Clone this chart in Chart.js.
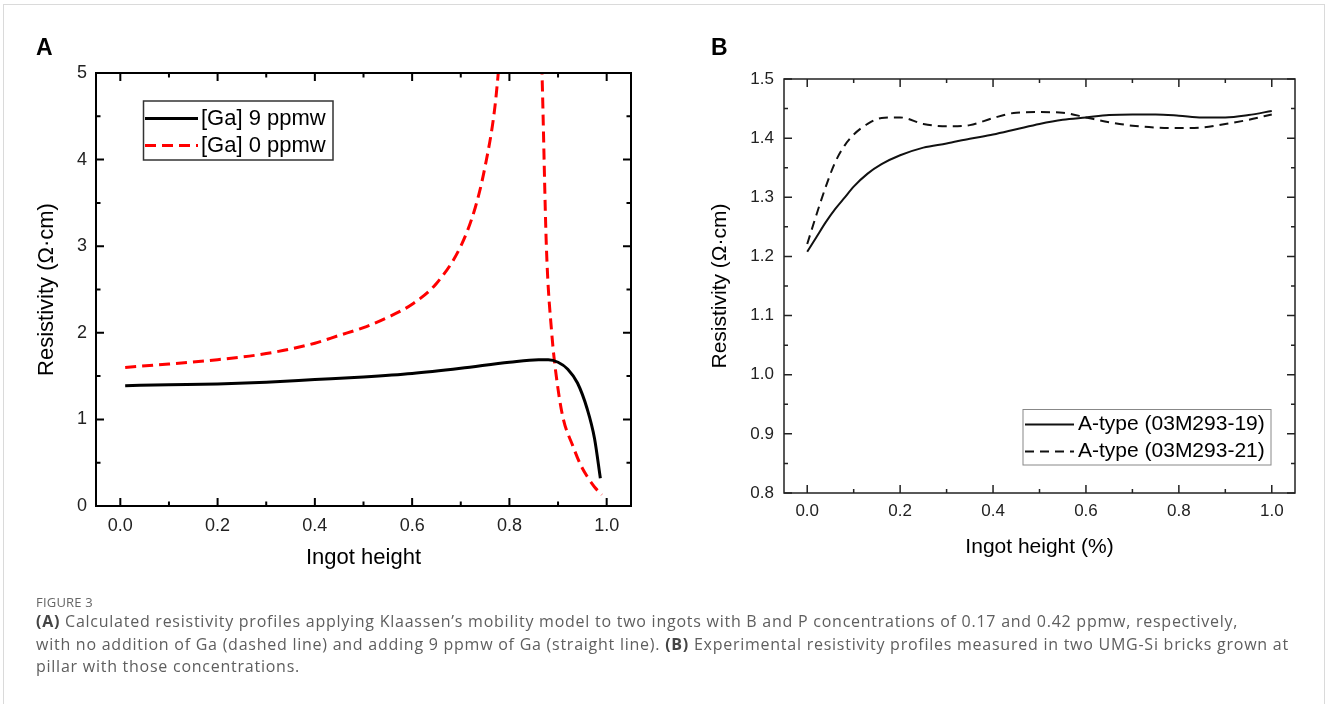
<!DOCTYPE html>
<html>
<head>
<meta charset="utf-8">
<script src="https://cdn.jsdelivr.net/npm/chart.js@4.4.1/dist/chart.umd.min.js"></script>
<style>
  html, body { margin: 0; padding: 0; background: #fff; overflow: hidden; }
  #fig { position: relative; width: 1328px; height: 704px; overflow: hidden; background: #fff; }
  #frame { position: absolute; left: 3px; top: 4px; width: 1322px; height: 760px; border: 1px solid #dadada; box-sizing: border-box; }
  .box { position: absolute; top: 0; width: 664px; height: 600px; }
  .panel { position: absolute; font: bold 23px "Liberation Sans", Arial, sans-serif; line-height: 23px; color: #000; }
  #caption { position: absolute; left: 36px; top: 594px; font-family: "Open Sans", sans-serif; color: #5e5e5e; white-space: nowrap; }
  #caption .figno { font-size: 13px; line-height: 16px; letter-spacing: 0.2px; color: #666; }
  #caption .line { font-size: 16px; line-height: 22.5px; letter-spacing: 0.75px; }
  #caption b { color: #444; }
</style>
</head>
<body>
<div id="fig">
  <div id="frame"></div>
  <div class="box" style="left:0"><canvas id="chartA" width="664" height="600"></canvas></div>
  <div class="box" style="left:664px"><canvas id="chartB" width="664" height="600"></canvas></div>
  <div class="panel" style="left:36px;top:36px">A</div>
  <div class="panel" style="left:711px;top:36px">B</div>
  <div id="caption">
    <div class="figno">FIGURE 3</div>
    <div class="line"><b>(A)</b> Calculated resistivity profiles applying Klaassen’s mobility model to two ingots with B and P concentrations of 0.17 and 0.42 ppmw, respectively,</div>
    <div class="line">with no addition of Ga (dashed line) and adding 9 ppmw of Ga (straight line). <b>(B)</b> Experimental resistivity profiles measured in two UMG-Si bricks grown at</div>
    <div class="line">pillar with those concentrations.</div>
  </div>
</div>
<script>
// Panel A - calculated resistivity, [Ga] 9 ppmw (solid)
const heightA9 = [0.01, 0.1, 0.2, 0.3, 0.4, 0.5, 0.6, 0.7, 0.8, 0.86, 0.88, 0.9, 0.92, 0.94, 0.96, 0.975, 0.987];
const rhoA9 = [1.39, 1.40, 1.41, 1.43, 1.46, 1.49, 1.53, 1.59, 1.66, 1.69, 1.69, 1.66, 1.58, 1.42, 1.12, 0.78, 0.32];
// Panel A - [Ga] 0 ppmw (dashed), goes off the top of the axis near 0.8
const heightA0 = [0.01, 0.1, 0.2, 0.3, 0.4, 0.45, 0.5, 0.55, 0.6, 0.65, 0.7, 0.73, 0.75, 0.77, 0.785, 0.82, 0.864, 0.867, 0.876, 0.887, 0.9, 0.911, 0.93, 0.946, 0.96, 0.975, 0.99];
const rhoA0 = [1.60, 1.64, 1.69, 1.76, 1.88, 1.97, 2.06, 2.18, 2.33, 2.57, 3.0, 3.45, 3.92, 4.6, 5.5, null, 5.5, 5.0, 3.0, 2.0, 1.35, 1.0, 0.7, 0.48, 0.34, 0.22, 0.13];

// Panel B - measured bricks
const heightB = [0, 0.02, 0.04, 0.06, 0.08, 0.1, 0.13, 0.16, 0.2, 0.25, 0.3, 0.35, 0.4, 0.45, 0.5, 0.55, 0.6, 0.65, 0.7, 0.75, 0.8, 0.85, 0.9, 0.95, 1.0];
const rhoB19 = [1.208, 1.233, 1.258, 1.280, 1.299, 1.318, 1.340, 1.356, 1.371, 1.384, 1.391, 1.399, 1.406, 1.415, 1.424, 1.431, 1.435, 1.439, 1.440, 1.440, 1.438, 1.435, 1.435, 1.439, 1.446];
const rhoB21 = [1.221, 1.271, 1.318, 1.359, 1.387, 1.406, 1.424, 1.434, 1.435, 1.424, 1.420, 1.422, 1.434, 1.443, 1.444, 1.443, 1.435, 1.427, 1.421, 1.418, 1.417, 1.418, 1.424, 1.431, 1.440];

const labelsA = ['[Ga] 9 ppmw', '[Ga] 0 ppmw'];
const labelsB = ['A-type (03M293-19)', 'A-type (03M293-21)'];

const FONT = '"Liberation Sans", Arial, sans-serif';

function pairs(xs, ys) {
    return xs.map((x, i) => ({ x: x, y: ys[i] }));
}

// frame around the plot + inward ticks on all four sides
const boxAndTicks = {
    id: 'boxAndTicks',
    afterDatasetsDraw(chart, args, o) {
        const { ctx, chartArea: a, scales } = chart;
        const minorOf = (vals, min, max) => {
            const out = [];
            for (let i = 0; i < vals.length - 1; i++) out.push((vals[i] + vals[i + 1]) / 2);
            return out.filter(v => v > min && v < max);
        };
        const xs = scales.x.ticks.map(t => t.value);
        const ys = scales.y.ticks.map(t => t.value);
        ctx.save();
        ctx.strokeStyle = o.color;
        ctx.lineWidth = o.width;
        ctx.strokeRect(a.left, a.top, a.right - a.left, a.bottom - a.top);
        ctx.beginPath();
        const markX = (vals, len) => vals.forEach(v => {
            const px = scales.x.getPixelForValue(v);
            ctx.moveTo(px, a.bottom); ctx.lineTo(px, a.bottom - len);
            ctx.moveTo(px, a.top); ctx.lineTo(px, a.top + len);
        });
        const markY = (vals, len) => vals.forEach(v => {
            const py = scales.y.getPixelForValue(v);
            ctx.moveTo(a.left, py); ctx.lineTo(a.left + len, py);
            ctx.moveTo(a.right, py); ctx.lineTo(a.right - len, py);
        });
        markX(xs, o.major); markX(minorOf(xs, scales.x.min, scales.x.max), o.minor);
        markY(ys, o.major); markY(minorOf(ys, scales.y.min, scales.y.max), o.minor);
        ctx.stroke();
        ctx.restore();
    }
};

// boxed legend placed inside the plot
const boxLegend = {
    id: 'boxLegend',
    afterDraw(chart, args, o) {
        const { ctx } = chart;
        ctx.save();
        ctx.strokeStyle = o.borderColor;
        ctx.lineWidth = o.borderWidth;
        ctx.strokeRect(o.left, o.top, o.width, o.height);
        ctx.font = o.font;
        ctx.textBaseline = 'middle';
        ctx.fillStyle = '#000';
        chart.data.datasets.forEach((ds, i) => {
            const y = o.rowY[i];
            ctx.beginPath();
            ctx.strokeStyle = ds.borderColor;
            ctx.lineWidth = ds.borderWidth;
            ctx.setLineDash(ds.borderDash || []);
            ctx.moveTo(o.sampleX[0], y);
            ctx.lineTo(o.sampleX[1], y);
            ctx.stroke();
            ctx.setLineDash([]);
            ctx.fillText(ds.label, o.textX, y);
        });
        ctx.restore();
    }
};

document.addEventListener('DOMContentLoaded', function() {

// Panel A
new Chart(document.getElementById('chartA').getContext('2d'), {
    type: 'line',
    data: {
        datasets: [{
            label: labelsA[0],
            data: pairs(heightA9, rhoA9),
            borderColor: '#000000',
            borderWidth: 3,
            pointRadius: 0,
            cubicInterpolationMode: 'monotone'
        }, {
            label: labelsA[1],
            data: pairs(heightA0, rhoA0),
            borderColor: '#ff0000',
            borderWidth: 3,
            borderDash: [11, 6],
            pointRadius: 0,
            spanGaps: false,
            cubicInterpolationMode: 'monotone'
        }]
    },
    options: {
        responsive: false,
        animation: false,
        layout: { padding: { left: 0, top: 73, right: 33, bottom: 24 } },
        scales: {
            x: {
                type: 'linear',
                min: -0.05,
                max: 1.05,
                grid: { display: false, drawTicks: false },
                border: { display: false },
                ticks: {
                    stepSize: 0.2,
                    includeBounds: false,
                    padding: 9,
                    color: '#222',
                    font: { family: FONT, size: 18 },
                    callback: v => v.toFixed(1)
                },
                title: {
                    display: true,
                    text: 'Ingot height',
                    color: '#000',
                    font: { family: FONT, size: 22 },
                    padding: { bottom: 5 }
                },
                afterFit: s => { s.height = 70; }
            },
            y: {
                min: 0,
                max: 5,
                grid: { display: false, drawTicks: false },
                border: { display: false },
                ticks: {
                    stepSize: 1,
                    padding: 9,
                    color: '#222',
                    font: { family: FONT, size: 18 }
                },
                title: {
                    display: true,
                    text: 'Resistivity (Ω·cm)',
                    color: '#000',
                    font: { family: FONT, size: 22 },
                    padding: { top: 34 }
                },
                afterFit: s => { s.width = 96; }
            }
        },
        plugins: {
            legend: { display: false },
            tooltip: { enabled: false },
            boxAndTicks: { color: '#000', width: 2, major: 8, minor: 4.5 },
            boxLegend: {
                left: 143.5, top: 101, width: 189.5, height: 59,
                borderColor: '#333', borderWidth: 1.5,
                rowY: [118.5, 145.5], sampleX: [145, 198], textX: 201,
                font: '22px ' + FONT
            }
        }
    },
    plugins: [boxAndTicks, boxLegend]
});

// Panel B
new Chart(document.getElementById('chartB').getContext('2d'), {
    type: 'line',
    data: {
        datasets: [{
            label: labelsB[0],
            data: pairs(heightB, rhoB19),
            borderColor: '#111111',
            borderWidth: 2,
            pointRadius: 0,
            cubicInterpolationMode: 'monotone'
        }, {
            label: labelsB[1],
            data: pairs(heightB, rhoB21),
            borderColor: '#111111',
            borderWidth: 2,
            borderDash: [9, 6],
            pointRadius: 0,
            cubicInterpolationMode: 'monotone'
        }]
    },
    options: {
        responsive: false,
        animation: false,
        layout: { padding: { left: 0, top: 79, right: 33, bottom: 37 } },
        scales: {
            x: {
                type: 'linear',
                min: -0.05,
                max: 1.05,
                grid: { display: false, drawTicks: false },
                border: { display: false },
                ticks: {
                    stepSize: 0.2,
                    includeBounds: false,
                    padding: 8,
                    color: '#222',
                    font: { family: FONT, size: 17 },
                    callback: v => v.toFixed(1)
                },
                title: {
                    display: true,
                    text: 'Ingot height (%)',
                    color: '#000',
                    font: { family: FONT, size: 21 },
                    padding: { bottom: 3 }
                },
                afterFit: s => { s.height = 70; }
            },
            y: {
                min: 0.8,
                max: 1.5,
                grid: { display: false, drawTicks: false },
                border: { display: false },
                ticks: {
                    stepSize: 0.1,
                    padding: 10,
                    color: '#222',
                    font: { family: FONT, size: 17 },
                    callback: v => v.toFixed(1)
                },
                title: {
                    display: true,
                    text: 'Resistivity (Ω·cm)',
                    color: '#000',
                    font: { family: FONT, size: 21 },
                    padding: { top: 44 }
                },
                afterFit: s => { s.width = 120; }
            }
        },
        plugins: {
            legend: { display: false },
            tooltip: { enabled: false },
            boxAndTicks: { color: '#222', width: 1.5, major: 8, minor: 4 },
            boxLegend: {
                left: 359, top: 409.5, width: 248, height: 55.5,
                borderColor: '#888', borderWidth: 1,
                rowY: [424.5, 451.5], sampleX: [361, 410], textX: 414,
                font: '21px ' + FONT
            }
        }
    },
    plugins: [boxAndTicks, boxLegend]
});

});
</script>
</body>
</html>
